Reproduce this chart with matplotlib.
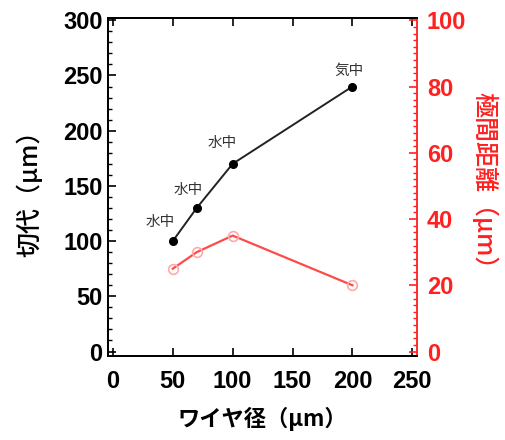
import numpy as np
import matplotlib
matplotlib.use("Agg")
import matplotlib.pyplot as plt
from matplotlib.ticker import MultipleLocator

plt.rcParams['font.family'] = ['Liberation Sans', 'Noto Sans CJK JP', 'DejaVu Sans']

# data
wire_dia = [50, 70, 100, 200]
kerf = [100, 130, 170, 240]
gap = [25, 30, 35, 20]
env_labels = ["水中", "水中", "水中", "気中"]
label_offsets = [(-13, 19), (-9, 18), (-10, 21), (-3, 16)]

RED = "#ff2020"
JP = ['Noto Sans CJK JP', 'DejaVu Sans']

fig = plt.figure(figsize=(5.05, 4.4), dpi=100)
ax = fig.add_axes([0.214, 0.191, 0.612, 0.768])
ax2 = ax.twinx()

ax.plot(wire_dia, kerf, color="#222222", lw=1.4, marker="o", ms=5.5,
        mfc="black", mec="black", zorder=3)
ax2.plot(wire_dia, gap, color="#ff4a4a", lw=1.6, marker="o", ms=7,
         mfc="none", mec="#ffaaaa", mew=1.2)

for x, y, t, off in zip(wire_dia, kerf, env_labels, label_offsets):
    ax.annotate(t, (x, y), xytext=off, textcoords="offset pixels",
                ha="center", va="center", fontsize=10.5, color="#333333",
                family=JP)

ax.set_xlim(-4, 254)
ax.set_ylim(-4, 302)
ax2.set_ylim(-4 / 3, 302 / 3)

ax.xaxis.set_major_locator(MultipleLocator(50))
ax.yaxis.set_major_locator(MultipleLocator(50))
ax.yaxis.set_minor_locator(MultipleLocator(10))
ax2.yaxis.set_major_locator(MultipleLocator(20))
ax2.yaxis.set_minor_locator(MultipleLocator(2))

ax.tick_params(axis="x", which="both", direction="in", top=True, length=6,
               width=1.2, labelsize=17, pad=10)
ax.tick_params(axis="y", which="major", direction="in", length=6, width=1.2,
               labelsize=17, pad=4)
ax.tick_params(axis="y", which="minor", direction="in", length=3, width=1)
ax2.tick_params(axis="y", which="major", direction="in", length=6, width=1.2,
                labelsize=17, colors=RED, pad=7)
ax2.tick_params(axis="y", which="minor", direction="in", length=3, width=1,
                colors=RED)
for lab in ax.get_xticklabels() + ax.get_yticklabels() + ax2.get_yticklabels():
    lab.set_fontweight("bold")

for s in ["left", "bottom", "top"]:
    ax.spines[s].set_linewidth(1.3)
    ax2.spines[s].set_linewidth(1.3)
ax2.spines["right"].set_color(RED)
ax2.spines["right"].set_linewidth(1.3)
ax.spines["right"].set_visible(False)

ax.set_xlabel("ワイヤ径（μm）", fontsize=16, fontweight="bold", family=JP,
              labelpad=10)
ax.set_ylabel("切代（μm）", fontsize=18, fontweight="medium", family=JP,
              labelpad=14)
ax2.set_ylabel("極間距離（μm）", fontsize=18, fontweight="medium", family=JP,
               color=RED, rotation=270, labelpad=22)

fig.savefig("out.png", dpi=100)
